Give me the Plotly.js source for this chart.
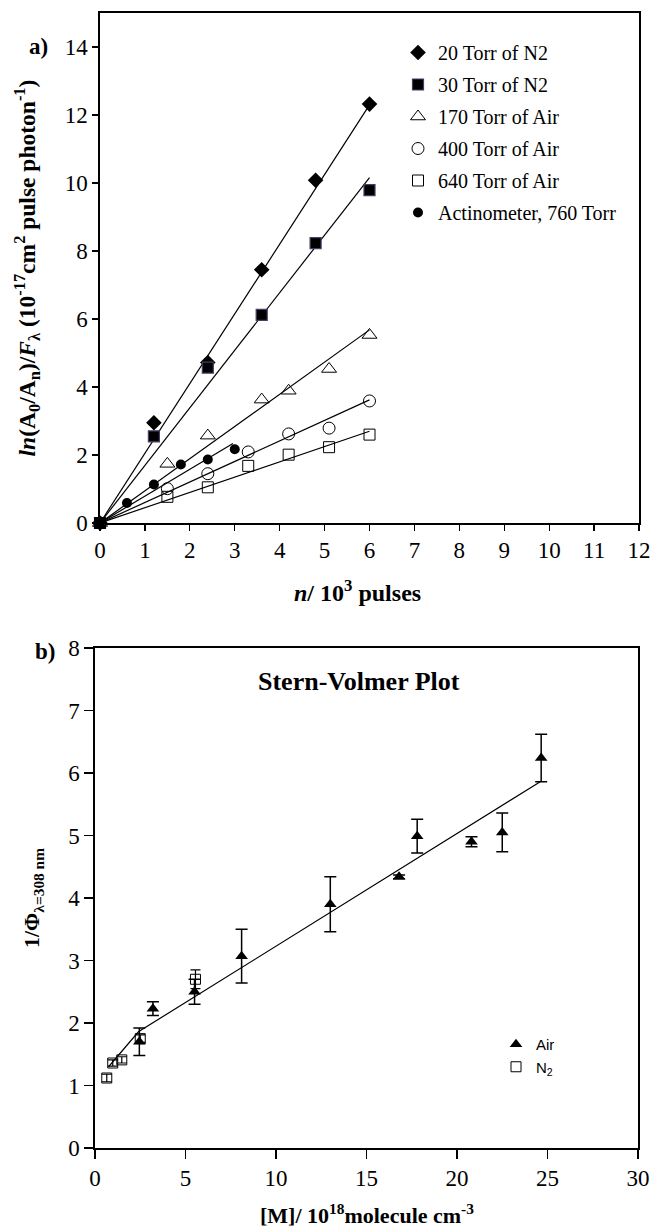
<!DOCTYPE html>
<html>
<head>
<meta charset="utf-8">
<script src="https://cdn.plot.ly/plotly-3.0.1.min.js"></script>
<style>html,body{margin:0;padding:0;background:#fff;}#chart{width:651px;height:1230px;}</style>
</head>
<body>
<div id="chart"></div>
<script>
// ---------- Panel a) data ----------
const n20N2 = [0, 1.2, 2.4, 3.6, 4.8, 6];
const v20N2 = [0, 2.95, 4.72, 7.45, 10.08, 12.32];
const n30N2 = [0, 1.2, 2.4, 3.6, 4.8, 6];
const v30N2 = [0, 2.55, 4.57, 6.12, 8.23, 9.79];
const n170Air = [0, 1.5, 2.4, 3.6, 4.2, 5.1, 6];
const v170Air = [0, 1.74, 2.57, 3.63, 3.89, 4.53, 5.53];
const n400Air = [0, 1.5, 2.4, 3.3, 4.2, 5.1, 6];
const v400Air = [0, 1.01, 1.45, 2.09, 2.62, 2.79, 3.59];
const n640Air = [0, 1.5, 2.4, 3.3, 4.2, 5.1, 6];
const v640Air = [0, 0.77, 1.05, 1.68, 2.01, 2.23, 2.6];
const nAct = [0, 0.6, 1.2, 1.8, 2.4, 3.0];
const vAct = [0, 0.59, 1.13, 1.72, 1.87, 2.17];
// fitted lines (start / end points)
const fitX20 = [0, 6],  fitY20 = [0, 12.3];
const fitX30 = [0, 6],  fitY30 = [0, 10.16];
const fitX170 = [0, 6], fitY170 = [0, 5.68];
const fitX400 = [0, 6], fitY400 = [0, 3.62];
const fitX640 = [0, 6], fitY640 = [0, 2.7];
const fitXAct = [0, 2.96], fitYAct = [0, 2.34];
const seriesNamesA = ["20 Torr of N2", "30 Torr of N2", "170 Torr of Air", "400 Torr of Air", "640 Torr of Air", "Actinometer, 760 Torr"];
const xTicksA = [0,1,2,3,4,5,6,7,8,9,10,11,12];
const yTicksA = [0,2,4,6,8,10,12,14];

// ---------- Panel b) data ----------
const mAir = [2.45, 3.2, 5.5, 8.1, 13.0, 16.8, 17.8, 20.8, 22.5, 24.65];
const phiAir = [1.7, 2.23, 2.5, 3.07, 3.9, 4.34, 4.99, 4.9, 5.05, 6.24];
const errAir = [0.22, 0.11, 0.2, 0.43, 0.44, 0.03, 0.27, 0.08, 0.31, 0.38];
const mN2 = [0.65, 0.98, 1.48, 2.5, 5.55];
const phiN2 = [1.12, 1.36, 1.41, 1.75, 2.7];
const errN2 = [0.06, 0.05, 0.05, 0.06, 0.15];
const fitMX = [0.75, 2.4, 24.6];
const fitMY = [1.3, 1.86, 5.86];
const xTicksB = [0,5,10,15,20,25,30];
const yTicksB = [0,1,2,3,4,5,6,7,8];

const W = 651, H = 1230;
const px = x => x / W;
const py = y => 1 - y / H;
const SERIF = "Liberation Serif";
const SANS = "Liberation Sans";

function fit(x, y, xa, ya) {
  return {x: x, y: y, xaxis: xa, yaxis: ya, mode: 'lines', showlegend: false,
          line: {color: '#000', width: 1.2}, hoverinfo: 'skip'};
}
function pts(x, y, name, sym, size, color, lineColor, lineW, group) {
  return {x: x, y: y, name: name, mode: 'markers', xaxis: 'x', yaxis: 'y',
          legend: 'legend', legendgroup: group, cliponaxis: false,
          marker: {symbol: sym, size: size, color: color, line: {color: lineColor, width: lineW}}};
}

const traces = [
  fit(fitX20, fitY20, 'x', 'y'),
  fit(fitX30, fitY30, 'x', 'y'),
  fit(fitX170, fitY170, 'x', 'y'),
  fit(fitX400, fitY400, 'x', 'y'),
  fit(fitX640, fitY640, 'x', 'y'),
  fit(fitXAct, fitYAct, 'x', 'y'),
  pts(n20N2, v20N2, seriesNamesA[0], 'diamond', 12, '#000', '#000', 0, 'g1'),
  pts(n30N2, v30N2, seriesNamesA[1], 'square', 11, '#000', '#4a3a66', 1.2, 'g2'),
  pts(n170Air, v170Air, seriesNamesA[2], 'triangle-up-open', 13, '#000', '#000', 1, 'g3'),
  pts(n400Air, v400Air, seriesNamesA[3], 'circle-open', 12, '#000', '#000', 1, 'g4'),
  pts(n640Air, v640Air, seriesNamesA[4], 'square-open', 11, '#000', '#000', 1, 'g5'),
  pts(nAct, vAct, seriesNamesA[5], 'circle', 10, '#000', '#000', 0, 'g6'),
  fit(fitMX, fitMY, 'x2', 'y2'),
  {x: mAir, y: phiAir, name: 'Air', mode: 'markers', xaxis: 'x2', yaxis: 'y2', legend: 'legend2',
   cliponaxis: false,
   marker: {symbol: 'triangle-up', size: 11, color: '#000'},
   error_y: {type: 'data', array: errAir, visible: true, color: '#000', thickness: 1.5, width: 6}},
  {x: mN2, y: phiN2, name: 'N<sub>2</sub>', mode: 'markers', xaxis: 'x2', yaxis: 'y2', legend: 'legend2',
   cliponaxis: false,
   marker: {symbol: 'square-open', size: 10, color: '#000', line: {width: 1}},
   error_y: {type: 'data', array: errN2, visible: true, color: '#000', thickness: 1.2, width: 5}}
];

const axisCommon = {
  showgrid: false, zeroline: false, showline: true, linecolor: '#000', linewidth: 1.6,
  mirror: true, ticks: 'outside', tickcolor: '#000', tickwidth: 1.3,
  tickfont: {family: SERIF, size: 23, color: '#000'}, fixedrange: true, automargin: false
};

const layout = {
  width: W, height: H,
  margin: {l: 0, r: 0, t: 0, b: 0},
  paper_bgcolor: '#fff', plot_bgcolor: '#fff',
  font: {family: SERIF, color: '#000'},
  xaxis: Object.assign({}, axisCommon, {domain: [px(100), px(639)], range: [0, 12], tickvals: xTicksA, ticklen: 6, anchor: 'y'}),
  yaxis: Object.assign({}, axisCommon, {domain: [py(523), py(13)], range: [0, 15], tickvals: yTicksA, ticklen: 6, anchor: 'x',
    title: {text: '<b><i>ln</i>(A<sub>0</sub>/A<sub>n</sub>)/<i>F</i><sub>λ</sub> (10<sup>-17</sup>cm<sup>2</sup> pulse photon<sup>-1</sup>)</b>',
            font: {family: SERIF, size: 23.5, color: '#000'}, standoff: 22}}),
  xaxis2: Object.assign({}, axisCommon, {domain: [px(95), px(638)], range: [0, 30], tickvals: xTicksB, ticklen: 9, anchor: 'y2'}),
  yaxis2: Object.assign({}, axisCommon, {domain: [py(1148), py(648)], range: [0, 8], tickvals: yTicksB, ticklen: 9, anchor: 'x2',
    title: {text: '<b>1/Φ<sub>λ=308 nm</sub></b>', font: {family: SERIF, size: 22, color: '#000'}, standoff: 22}}),
  legend: {x: px(398), y: py(33), xanchor: 'left', yanchor: 'top', bgcolor: 'rgba(0,0,0,0)',
           font: {family: SERIF, size: 20, color: '#000'}, tracegroupgap: 3, traceorder: 'grouped'},
  legend2: {x: px(496), y: py(1028), xanchor: 'left', yanchor: 'top', bgcolor: 'rgba(0,0,0,0)',
            font: {family: SANS, size: 15, color: '#000'}, tracegroupgap: 0},
  annotations: [
    {text: '<b>a)</b>', x: px(27), y: py(32), xref: 'paper', yref: 'paper', showarrow: false,
     font: {family: SERIF, size: 23}},
    {text: '<b>b)</b>', x: px(33), y: py(652), xref: 'paper', yref: 'paper', showarrow: false,
     font: {family: SERIF, size: 23}},
    {text: '<b><i>n</i>/ 10<sup>3</sup> pulses</b>', x: px(357), y: py(591), xref: 'paper', yref: 'paper',
     showarrow: false, font: {family: SERIF, size: 24}},
    {text: '<b>Stern-Volmer Plot</b>', x: px(359), y: py(681), xref: 'paper', yref: 'paper',
     showarrow: false, font: {family: SERIF, size: 26}},
    {text: '<b>[M]/ 10<sup>18</sup>molecule cm<sup>-3</sup></b>', x: px(367), y: py(1230), xref: 'paper', yref: 'paper',
     yanchor: 'bottom', showarrow: false, font: {family: SERIF, size: 22}}
  ]
};

Plotly.newPlot('chart', traces, layout, {staticPlot: true, displayModeBar: false});
</script>
</body>
</html>
